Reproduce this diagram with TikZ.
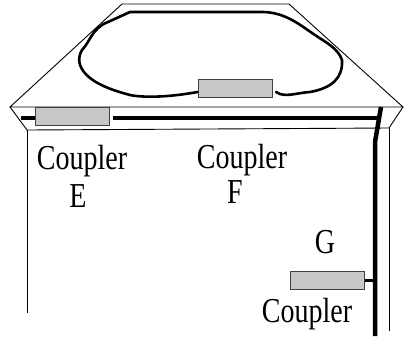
\documentclass[tikz,border=0pt]{standalone}
\usepackage{fontspec}
\setmainfont{Liberation Serif}
\usetikzlibrary{calc}
\definecolor{coupler}{HTML}{C8C8C8}
\tikzset{
  wall/.style={draw=black, line width=0.9pt},
  track/.style={draw=black, line width=2.6pt, line cap=round, line join=round},
  siding/.style={draw=black, line width=3.1pt},
  mainline/.style={draw=black, line width=4.5pt},
  couplerbox/.style={draw=black!75, fill=coupler, line width=1pt, minimum width=74pt, minimum height=18pt, inner sep=0pt},
  lab/.style={text=black, font=\fontsize{35}{35}\selectfont, xscale=0.8, inner sep=0pt, anchor=base},
}
\begin{document}
\begin{tikzpicture}[x=1pt,y=-1pt]
  \useasboundingbox (0,0) rectangle (406,338);
  % roof and walls
  \coordinate (A) at (10,107);
  \coordinate (B) at (122,4);
  \coordinate (C) at (289,4);
  \coordinate (D) at (403,107);
  \coordinate (E) at (389,128);
  \coordinate (F) at (27,130);
  \draw[wall] (A)--(B)--(C)--(D)--cycle;
  \draw[wall] (A)--(F)--(E)--(D);
  \draw[wall] (F)--(27,313);
  \draw[wall] (E)--(389,331);
  % couplers
  \node[couplerbox] (boxE) at (72,116.5) {};
  \node[couplerbox] (boxF) at (235,88) {};
  \node[couplerbox] (boxG) at (327,280.5) {};
  % tracks
  \draw[track] (boxF.west) ++(0,4) .. controls (170,97) and (145,98) .. (130,95)
    .. controls (115,91) and (100,86) .. (90,78)
    .. controls (80,70) and (76,60) .. (82,50)
    .. controls (90,42) and (92,28) .. (108,22)
    -- (130,12) -- (262,12)
    .. controls (285,12) and (300,25) .. (315,35)
    .. controls (325,42) and (338,48) .. (342,60)
    .. controls (343,78) and (332,88) .. (310,92)
    .. controls (295,93) and (285,98) .. (276,92);
  \coordinate (stubE) at (21,118);
  \draw[siding] (stubE)--(stubE-|boxE.west);
  \draw[siding] (113,118)--(378,118);
  \draw[mainline] (381,107)--(375,142)--(375,336);
  \draw[siding] (boxG.east)--(374,280.5);
  % labels
  \node[lab] at (82,169) {Coupler};
  \node[lab] at (242,168) {Coupler};
  \node[lab] at (78,207) {E};
  \node[lab] at (235,203) {F};
  \node[lab] at (325,253) {G};
  \node[lab] at (307,322) {Coupler};
\end{tikzpicture}
\end{document}
